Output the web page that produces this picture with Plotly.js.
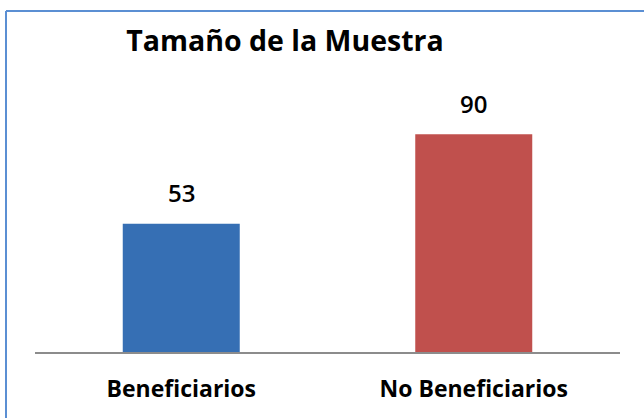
<!DOCTYPE html>
<html>
<head>
<meta charset="utf-8">
<script src="https://cdn.plot.ly/plotly-3.0.1.min.js"></script>
<style>html,body{margin:0;padding:0;background:#fff;}#chart{width:644px;height:418px;}</style>
</head>
<body>
<div id="chart"></div>
<script>
const categories = ["Beneficiarios", "No Beneficiarios"];
const values = [53, 90];
const barColors = ["#366fb4", "#c0504d"];
const chartTitle = "Tamaño de la Muestra";

const FONT = "Open Sans, sans-serif";

const annotations = categories.map((c, i) => ({
  x: c, y: values[i], xref: "x", yref: "y",
  text: String(values[i]), showarrow: false,
  yanchor: "middle", yshift: 31,
  font: {family: FONT, size: 24, color: "#000", weight: 600}
}));

const layout = {
  width: 644, height: 418,
  margin: {l: 35, r: 24, t: 110, b: 66, pad: 0},
  paper_bgcolor: "#ffffff", plot_bgcolor: "#ffffff",
  showlegend: false,
  title: {
    text: "<b>" + chartTitle + "</b>",
    xref: "container", yref: "container",
    x: 285/644, xanchor: "center",
    y: 1 - 41/418, yanchor: "middle",
    font: {family: FONT, size: 28.5, color: "#000"}
  },
  xaxis: {
    type: "category", range: [-0.5, 1.5],
    showline: true, linecolor: "#8c8c8c", linewidth: 2,
    ticks: "", showgrid: false, zeroline: false,
    ticklabelstandoff: 15,
    tickfont: {family: FONT, size: 23, color: "#000", weight: "bold"}
  },
  yaxis: {
    range: [0, 100], visible: false, showgrid: false, zeroline: false, fixedrange: true
  },
  bargap: 0.6,
  annotations: annotations,
  shapes: [
    {type: "line", xref: "paper", yref: "paper",
     x0: (6-35)/585, x1: (6-35)/585, y0: (352-418)/242, y1: (352-11)/242,
     line: {color: "#5b8fd3", width: 2}},
    {type: "line", xref: "paper", yref: "paper",
     x0: (6-35)/585, x1: (650-35)/585, y0: (352-11)/242, y1: (352-11)/242,
     line: {color: "#5b8fd3", width: 2}}
  ]
};

const data = [{
  type: "bar", x: categories, y: values,
  marker: {color: barColors, line: {width: 0}},
  hoverinfo: "none", cliponaxis: false
}];

Plotly.newPlot("chart", data, layout, {staticPlot: true, displayModeBar: false});
</script>
</body>
</html>
